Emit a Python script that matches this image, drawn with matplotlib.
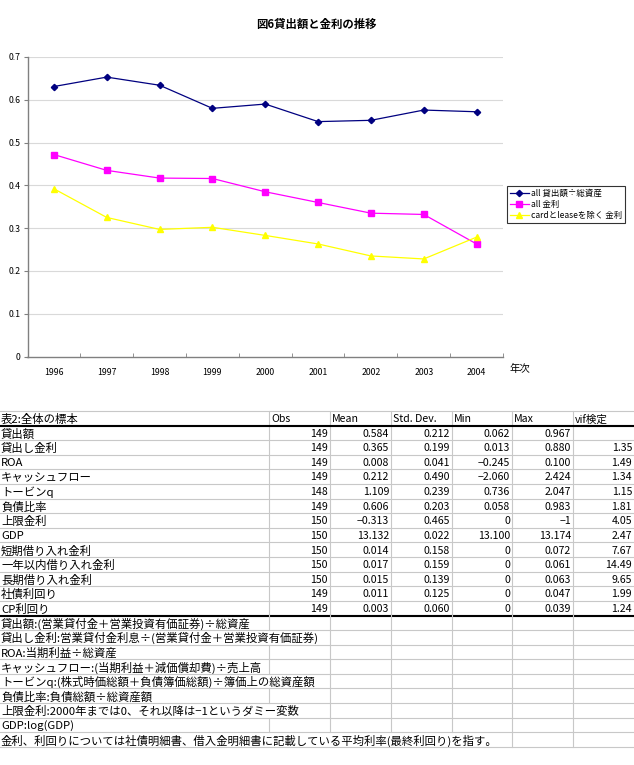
import matplotlib
matplotlib.use("Agg")
import matplotlib.pyplot as plt
from matplotlib.lines import Line2D

plt.rcParams['font.family'] = ['Noto Sans CJK JP', 'DejaVu Sans']

# ---------------- chart data ----------------
years = ["1996", "1997", "1998", "1999", "2000", "2001", "2002", "2003", "2004"]
loan_ratio = [0.631, 0.653, 0.634, 0.580, 0.590, 0.549, 0.552, 0.576, 0.572]
rate_all = [0.472, 0.435, 0.417, 0.416, 0.385, 0.360, 0.335, 0.332, 0.263]
rate_excl = [0.392, 0.325, 0.297, 0.302, 0.283, 0.263, 0.235, 0.228, 0.279]
series_labels = ["all 貸出額÷総資産", "all 金利", "cardとleaseを除く 金利"]
title = "図6貸出額と金利の推移"
yticks = [0, 0.1, 0.2, 0.3, 0.4, 0.5, 0.6, 0.7]
ytick_labels = ["0", "0.1", "0.2", "0.3", "0.4", "0.5", "0.6", "0.7"]

# ---------------- table data ----------------
table_title = "表2:全体の標本"
col_headers = ["Obs", "Mean", "Std. Dev.", "Min", "Max", "vif検定"]
row_names = ["貸出額", "貸出し金利", "ROA", "キャッシュフロー", "トービンq", "負債比率",
             "上限金利", "GDP", "短期借り入れ金利", "一年以内借り入れ金利",
             "長期借り入れ金利", "社債利回り", "CP利回り"]
obs = ["149", "149", "149", "149", "148", "149", "150", "150", "150", "150", "150", "149", "149"]
mean = ["0.584", "0.365", "0.008", "0.212", "1.109", "0.606", "−0.313", "13.132",
        "0.014", "0.017", "0.015", "0.011", "0.003"]
std = ["0.212", "0.199", "0.041", "0.490", "0.239", "0.203", "0.465", "0.022",
       "0.158", "0.159", "0.139", "0.125", "0.060"]
mins = ["0.062", "0.013", "−0.245", "−2.060", "0.736", "0.058", "0", "13.100",
        "0", "0", "0", "0", "0"]
maxs = ["0.967", "0.880", "0.100", "2.424", "2.047", "0.983", "−1", "13.174",
        "0.072", "0.061", "0.063", "0.047", "0.039"]
vif = ["", "1.35", "1.49", "1.34", "1.15", "1.81", "4.05", "2.47",
       "7.67", "14.49", "9.65", "1.99", "1.24"]
notes = [
    "貸出額:(営業貸付金＋営業投資有価証券)÷総資産",
    "貸出し金利:営業貸付金利息÷(営業貸付金＋営業投資有価証券)",
    "ROA:当期利益÷総資産",
    "キャッシュフロー:(当期利益＋減価償却費)÷売上高",
    "トービンq:(株式時価総額＋負債簿価総額)÷簿価上の総資産額",
    "負債比率:負債総額÷総資産額",
    "上限金利:2000年までは0、それ以降は−1というダミー変数",
    "GDP:log(GDP)",
    "金利、利回りについては社債明細書、借入金明細書に記載している平均利率(最終利回り)を指す。",
]

W, H = 634, 765
fig = plt.figure(figsize=(W / 100, H / 100), dpi=100)
fig.patch.set_facecolor("white")


def fx(x):
    return x / W


def fy(y):
    return 1 - y / H


# ---------------- chart ----------------
ax = fig.add_axes([fx(27.5), fy(356.5), (503 - 27.5) / W, (356.5 - 57) / H])
xs = list(range(len(years)))
ax.plot(xs, loan_ratio, color="#000080", marker="D", markersize=3.2, lw=0.9, label=series_labels[0])
ax.plot(xs, rate_all, color="#FF00FF", marker="s", markersize=4, lw=0.9, label=series_labels[1])
ax.plot(xs, rate_excl, color="#FFFF00", marker="^", markersize=4, lw=0.9, label=series_labels[2])
ax.set_xlim(-0.5, len(years) - 0.5)
ax.set_ylim(0, 0.7)
ax.set_yticks(yticks)
ax.set_yticklabels(ytick_labels, fontsize=6.3)
ax.set_xticks(xs)
ax.set_xticklabels(years, fontsize=6.3)
ax.tick_params(axis="x", length=0, pad=8)
ax.set_xticks([i + 0.5 for i in xs], minor=True)
ax.tick_params(axis="x", which="minor", length=3, direction="in", color="#808080")
ax.tick_params(axis="y", length=3, direction="out", color="#808080", pad=2)
for v in yticks[1:]:
    ax.axhline(v, color="#d9d9d9", lw=0.8, zorder=0)
for s in ["top", "right"]:
    ax.spines[s].set_visible(False)
for s in ["left", "bottom"]:
    ax.spines[s].set_color("#808080")
    ax.spines[s].set_linewidth(1.0)
fig.text(fx(316), fy(24), title, ha="center", va="center", fontsize=8.2, fontweight="bold")
fig.text(fx(510), fy(369), "年次", ha="left", va="center", fontsize=7.5)
leg = ax.legend(loc="upper left", bbox_to_anchor=((507 - 27.5) / 475.5, (356.5 - 186) / 299.5),
                fontsize=6.1, frameon=True, fancybox=False, borderpad=0.35, labelspacing=0.25,
                handlelength=2.2, handletextpad=0.3, borderaxespad=0)
leg.get_frame().set_edgecolor("#000000")
leg.get_frame().set_linewidth(0.8)

# ---------------- table ----------------
fs = 8.2
fsn = 7.6
col_edges = [0, 269, 330, 391, 452, 512, 573, 634]
top = 411
rh = 14.6
nrows = 1 + len(row_names) + len(notes)
ys = [top + rh * k for k in range(nrows + 1)]
gray = "#c8c8c8"


def hline(y, color=gray, lw=0.8, x0=0, x1=W):
    fig.add_artist(Line2D([fx(x0), fx(x1)], [fy(y), fy(y)], color=color, lw=lw, transform=fig.transFigure))


def vline(x, y0, y1, color=gray, lw=0.8):
    fig.add_artist(Line2D([fx(x), fx(x)], [fy(y0), fy(y1)], color=color, lw=lw, transform=fig.transFigure))


for x in col_edges[1:-1]:
    vline(x, ys[0], ys[1 + len(row_names)])

for k, y in enumerate(ys):
    if k in (1, 1 + len(row_names)):
        hline(y - 0.7, color="black", lw=0.8)
        hline(y + 0.8, color="black", lw=0.8)
    else:
        hline(y)


def cy(k):
    return (ys[k] + ys[k + 1]) / 2 + 0.8


def cyj(k):
    return (ys[k] + ys[k + 1]) / 2 + 1.0


fig.text(fx(1), fy(cyj(0)), table_title, ha="left", va="center", fontsize=fs)
for j, h in enumerate(col_headers):
    fig.text(fx(col_edges[j + 1] + 2), fy(cyj(0)), h, ha="left", va="center", fontsize=fsn)

cols = [obs, mean, std, mins, maxs, vif]
for i, name in enumerate(row_names):
    k = i + 1
    fig.text(fx(1), fy(cyj(k)), name, ha="left", va="center", fontsize=fs)
    for j, col in enumerate(cols):
        fig.text(fx(col_edges[j + 2] - 2), fy(cy(k)), col[i], ha="right", va="center", fontsize=fsn)

renderer = fig.canvas.get_renderer()
for i, note in enumerate(notes):
    k = 1 + len(row_names) + i
    t = fig.text(fx(1), fy(cyj(k)), note, ha="left", va="center", fontsize=fs)
    bb = t.get_window_extent(renderer=renderer)
    right = bb.x1
    for x in col_edges[1:-1]:
        if x > right + 1:
            vline(x, ys[k], ys[k + 1])

fig.savefig("out.png", dpi=100, facecolor="white")
